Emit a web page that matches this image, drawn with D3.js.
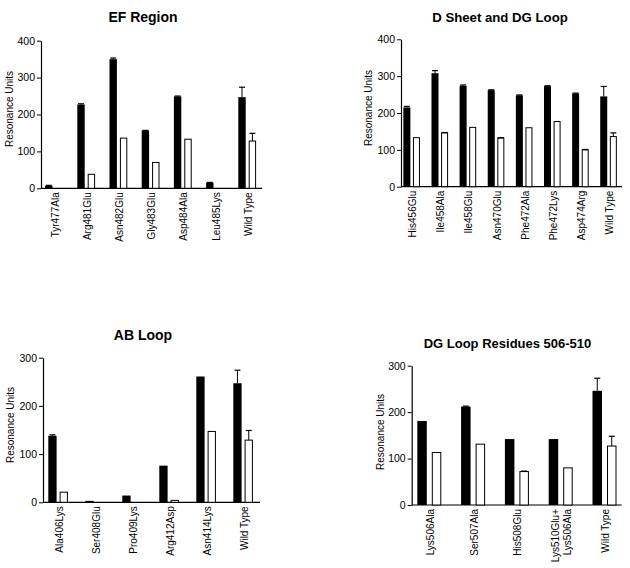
<!DOCTYPE html>
<html><head><meta charset="utf-8">
<script src="https://cdn.jsdelivr.net/npm/d3@7"></script>
<style>
body{margin:0;background:#fff;}
svg{display:block;font-family:"Liberation Sans",Arial,Helvetica,sans-serif;}
</style></head>
<body>
<svg id="chart" width="630" height="568"></svg>
<script>
// ---- Data ----
const efTitle = "EF Region";
const efCategories = ["Tyr477Ala","Arg481Glu","Asn482Glu","Gly483Glu","Asp484Ala","Leu485Lys","Wild Type"];
const efBlack = [7, 227, 350, 156, 249, 15, 247];
const efBlackErr = [1, 2, 3, 1, 1, 1, 27];
const efWhite = [0, 38, 136, 70, 133, 0, 128];
const efWhiteErr = [0, 0, 0, 0, 0, 0, 21];

const dsTitle = "D Sheet and DG Loop";
const dsCategories = ["His456Glu","Ile458Ala","Ile458Glu","Asn470Glu","Phe472Ala","Phe472Lys","Asp474Arg","Wild Type"];
const dsBlack = [215, 308, 274, 262, 248, 273, 253, 245];
const dsBlackErr = [3, 7, 2, 1, 1, 1, 1, 27];
const dsWhite = [133, 146, 161, 132, 160, 177, 100, 136];
const dsWhiteErr = [0, 1, 0, 1, 0, 0, 1, 10];

const abTitle = "AB Loop";
const abCategories = ["Ala406Lys","Ser408Glu","Pro409Lys","Arg412Asp","Asn414Lys","Wild Type"];
const abBlack = [138, 3, 14, 76, 261, 247];
const abBlackErr = [2, 0, 0, 0, 0, 27];
const abWhite = [21, 0, 0, 4, 147, 129];
const abWhiteErr = [0, 0, 0, 0, 0, 20];

const dgTitle = "DG Loop Residues 506-510";
const dgCategories = ["Lys506Ala","Ser507Ala","His508Glu","Lys510Glu+\nLys506Ala","Wild Type"];
const dgBlack = [181, 212, 142, 142, 246];
const dgBlackErr = [0, 1, 0, 0, 27];
const dgWhite = [113, 131, 72, 80, 127];
const dgWhiteErr = [0, 0, 1, 0, 21];

const ticks400 = [0, 100, 200, 300, 400];
const ticks300 = [0, 100, 200, 300];
const yLabel = "Resonance Units";

// ---- Layout (positions only) ----
const panels = [
  {title: efTitle, cats: efCategories, black: efBlack, blackErr: efBlackErr, white: efWhite, whiteErr: efWhiteErr, ticks: ticks400,
   ax: 41, axEnd: 262, y0: 188.3, yTop: 40.7, band: [37.9, 263.3], bw: 7.4, gap: 3, titleX: 143, titleY: 22, titleSize: 14, ylabX: 9, ylabY: 109},
  {title: dsTitle, cats: dsCategories, black: dsBlack, blackErr: dsBlackErr, white: dsWhite, whiteErr: dsWhiteErr, ticks: ticks400,
   ax: 401, axEnd: 622, y0: 186.7, yTop: 39.3, band: [397.6, 622.6], bw: 7, gap: 2.6, titleX: 500, titleY: 22, titleSize: 13.2, ylabX: 368.5, ylabY: 108},
  {title: abTitle, cats: abCategories, black: abBlack, blackErr: abBlackErr, white: abWhite, whiteErr: abWhiteErr, ticks: ticks300,
   ax: 43, axEnd: 260, y0: 502.3, yTop: 357.7, band: [39.6, 261.6], bw: 8.3, gap: 3, titleX: 143, titleY: 340, titleSize: 14, ylabX: 10, ylabY: 425},
  {title: dgTitle, cats: dgCategories, black: dgBlack, blackErr: dgBlackErr, white: dgWhite, whiteErr: dgWhiteErr, ticks: ticks300,
   ax: 411.7, axEnd: 621.7, y0: 505, yTop: 365.7, band: [407.4, 626.4], bw: 9.5, gap: 5, titleX: 507.5, titleY: 348, titleSize: 13, ylabX: 380, ylabY: 432}
];

const svg = d3.select("#chart");

panels.forEach(p => {
  const g = svg.append("g");
  const maxV = p.ticks[p.ticks.length - 1];
  const y = d3.scaleLinear().domain([0, maxV]).range([p.y0, p.yTop]);
  const x = d3.scaleBand().domain(p.cats).range(p.band);

  // title
  g.append("text").attr("x", p.titleX).attr("y", p.titleY)
    .attr("text-anchor", "middle").attr("font-weight", "bold")
    .attr("font-size", p.titleSize).text(p.title);

  // y axis
  const yAxis = d3.axisLeft(y).tickValues(p.ticks).tickSize(4).tickSizeOuter(0).tickPadding(2);
  const ya = g.append("g").attr("transform", `translate(${p.ax},0)`).call(yAxis);
  ya.select(".domain").attr("stroke", "#000").attr("stroke-width", 1.2);
  ya.selectAll(".tick line").attr("stroke", "#000").attr("stroke-width", 1);
  ya.selectAll(".tick text").attr("font-size", 10.5).attr("fill", "#000")
    .attr("font-family", "'Liberation Sans',Arial,sans-serif");

  // y label
  g.append("text").attr("transform", `translate(${p.ylabX},${p.ylabY}) rotate(-90)`)
    .attr("text-anchor", "middle").attr("dy", "0.35em").attr("font-size", 10).text(yLabel);

  // x axis line
  g.append("line").attr("x1", p.ax).attr("x2", p.axEnd).attr("y1", p.y0).attr("y2", p.y0)
    .attr("stroke", "#000").attr("stroke-width", 1.2);

  const rows = p.cats.map((c, i) => ({c, b: p.black[i], be: p.blackErr[i], w: p.white[i], we: p.whiteErr[i]}));
  const cx = d => x(d.c) + x.bandwidth() / 2;

  // black bars
  g.selectAll(".bb").data(rows.filter(d => d.b > 0)).join("rect")
    .attr("x", d => cx(d) - p.gap / 2 - p.bw).attr("width", p.bw)
    .attr("y", d => y(d.b)).attr("height", d => y(0) - y(d.b)).attr("fill", "#000");
  // white bars
  g.selectAll(".wb").data(rows.filter(d => d.w > 0)).join("rect")
    .attr("x", d => cx(d) + p.gap / 2 + 0.5).attr("width", p.bw - 1)
    .attr("y", d => y(d.w)).attr("height", d => y(0) - y(d.w))
    .attr("fill", "#fff").attr("stroke", "#000").attr("stroke-width", 1);

  // error bars (upper only)
  const errs = [];
  rows.forEach(d => {
    if (d.be > 0 && d.b > 0) errs.push({x: cx(d) - p.gap / 2 - p.bw / 2, v: d.b, e: d.be});
    if (d.we > 0 && d.w > 0) errs.push({x: cx(d) + p.gap / 2 + p.bw / 2, v: d.w, e: d.we});
  });
  const eg = g.selectAll(".err").data(errs).join("g");
  eg.append("line").attr("x1", d => d.x).attr("x2", d => d.x)
    .attr("y1", d => y(d.v)).attr("y2", d => y(d.v + d.e)).attr("stroke", "#000").attr("stroke-width", 1);
  eg.append("line").attr("x1", d => d.x - 3).attr("x2", d => d.x + 3)
    .attr("y1", d => y(d.v + d.e)).attr("y2", d => y(d.v + d.e)).attr("stroke", "#000").attr("stroke-width", 1.2);

  // x labels (rotated)
  const lab = g.selectAll(".xl").data(rows).join("text")
    .attr("transform", d => `translate(${cx(d) + 1},${p.y0 + 4}) rotate(-90)`)
    .attr("text-anchor", "end").attr("font-size", 10);
  lab.each(function(d) {
    const lines = d.c.split("\n");
    const t = d3.select(this);
    lines.forEach((ln, k) => {
      t.append("tspan").attr("x", 0)
        .attr("dy", k === 0 ? (0.35 - (lines.length - 1) * 0.6) + "em" : "1.2em")
        .text(ln);
    });
  });
});
</script>
</body></html>
